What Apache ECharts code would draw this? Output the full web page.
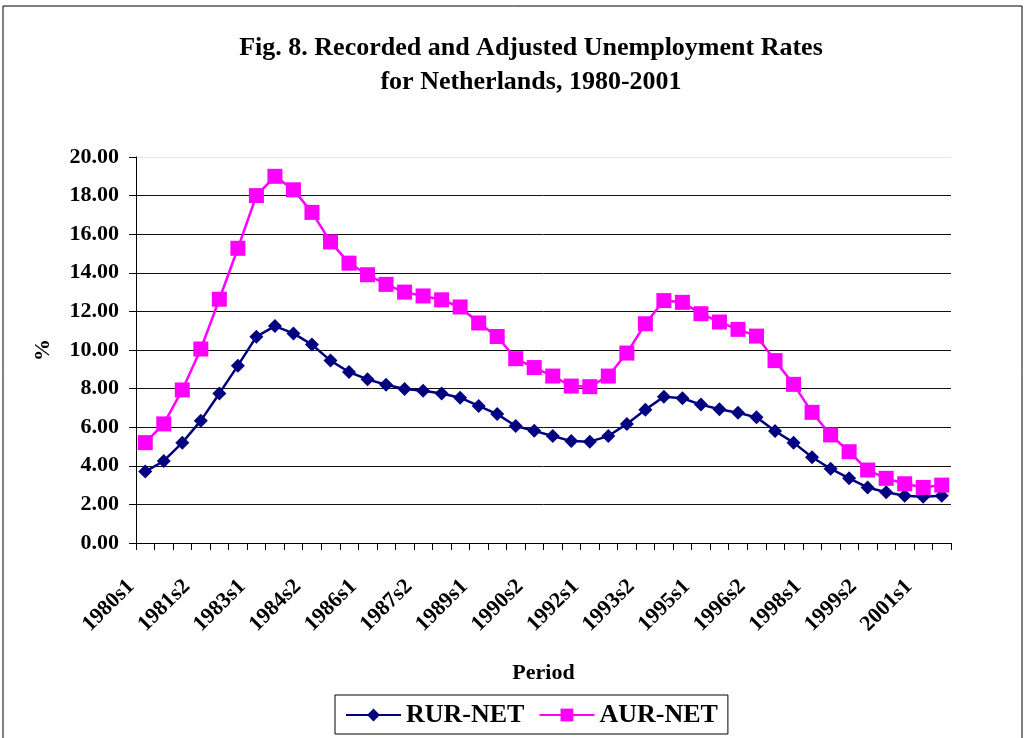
<!DOCTYPE html>
<html>
<head>
    <meta charset="utf-8">
    <title>Fig. 8 Netherlands</title>
    <script src="https://cdn.jsdelivr.net/npm/echarts@6/dist/echarts.min.js"></script>
    <style>
        body { margin: 0; background: #fff; }
    </style>
</head>
<body>
    <div id="main" style="width: 1031px;height:738px;"></div>
    <script type="text/javascript">
        // half-year periods 1980s1 .. 2001s2
        var periods = [];
        for (var yr = 1980; yr <= 2001; yr++) {
            periods.push(yr + 's1');
            periods.push(yr + 's2');
        }

        // recorded unemployment rate
        var rurNet = [3.70, 4.25, 5.20, 6.34, 7.75, 9.19, 10.69, 11.24, 10.86, 10.28,
            9.45, 8.86, 8.48, 8.20, 7.98, 7.89, 7.75, 7.53, 7.10, 6.68,
            6.06, 5.81, 5.54, 5.28, 5.25, 5.54, 6.17, 6.91, 7.58, 7.50,
            7.17, 6.93, 6.75, 6.51, 5.80, 5.20, 4.44, 3.85, 3.35, 2.88,
            2.63, 2.45, 2.40, 2.45];

        // adjusted unemployment rate
        var aurNet = [5.20, 6.17, 7.93, 10.05, 12.63, 15.27, 18.00, 19.00, 18.30, 17.13,
            15.60, 14.50, 13.90, 13.40, 13.00, 12.80, 12.60, 12.23, 11.40, 10.70,
            9.55, 9.09, 8.65, 8.13, 8.10, 8.65, 9.84, 11.36, 12.56, 12.47,
            11.88, 11.45, 11.07, 10.72, 9.45, 8.22, 6.77, 5.60, 4.73, 3.78,
            3.35, 3.07, 2.88, 3.00];

        var font = '"Liberation Serif", "Times New Roman", serif';

        // gridline colours, 0.00 .. 20.00 (top one is faint)
        var gridColors = ['#000', '#111', '#111', '#111', '#111', '#111',
            '#111', '#111', '#111', '#111', '#e6e6e6'];

        var myChart = echarts.init(document.getElementById('main'));

        var option = {
            backgroundColor: '#fff',
            textStyle: { fontFamily: font },
            graphic: [{
                type: 'rect',
                shape: { x: 3, y: 6, width: 1019, height: 740 },
                style: { fill: 'none', stroke: '#000', lineWidth: 1 }
            }],
            title: {
                text: 'Fig. 8. Recorded and Adjusted Unemployment Rates\nfor Netherlands, 1980-2001',
                left: 526,
                textAlign: 'center',
                top: 26,
                textStyle: {
                    fontFamily: font,
                    fontSize: 26,
                    fontWeight: 'bold',
                    color: '#000',
                    lineHeight: 34
                }
            },
            legend: {
                data: ['RUR-NET', 'AUR-NET'],
                bottom: 4,
                left: 335,
                borderColor: '#000',
                borderWidth: 1,
                padding: [7, 10, 6, 10],
                itemGap: 14,
                itemWidth: 55,
                itemHeight: 16,
                textStyle: {
                    fontFamily: font,
                    fontSize: 26,
                    fontWeight: 'bold',
                    color: '#000'
                }
            },
            grid: {
                left: 136,
                right: 80,
                top: 157,
                bottom: 195
            },
            xAxis: {
                type: 'category',
                data: periods,
                boundaryGap: true,
                name: 'Period',
                nameLocation: 'middle',
                nameGap: 119,
                nameTextStyle: {
                    fontFamily: font,
                    fontSize: 22,
                    fontWeight: 'bold',
                    color: '#000'
                },
                axisLine: { lineStyle: { color: '#000', width: 1 } },
                axisTick: { show: true, interval: 0, length: 7, lineStyle: { color: '#000' } },
                axisLabel: {
                    interval: 2,
                    rotate: 45,
                    margin: 26,
                    padding: [0, 20, 0, 0],
                    fontFamily: font,
                    fontSize: 22,
                    fontWeight: 'bold',
                    color: '#000'
                },
                splitLine: { show: false }
            },
            yAxis: {
                type: 'value',
                min: 0,
                max: 20,
                interval: 2,
                name: '%',
                nameLocation: 'middle',
                nameRotate: 90,
                nameGap: 82,
                nameTextStyle: {
                    fontFamily: font,
                    fontSize: 22,
                    fontWeight: 'bold',
                    color: '#000'
                },
                axisLine: { show: true, lineStyle: { color: '#000', width: 1 } },
                axisTick: { show: true, length: 7, lineStyle: { color: '#000' } },
                axisLabel: {
                    formatter: function (v) { return v.toFixed(2); },
                    margin: 17,
                    fontFamily: font,
                    fontSize: 22,
                    fontWeight: 'bold',
                    color: '#000'
                },
                splitLine: { show: true, lineStyle: { color: gridColors, width: 1 } }
            },
            series: [{
                name: 'RUR-NET',
                type: 'line',
                data: rurNet,
                symbol: 'diamond',
                symbolSize: 14,
                showAllSymbol: true,
                color: '#000080',
                lineStyle: { color: '#000080', width: 2.5 },
                itemStyle: { color: '#000080' },
                animation: false
            }, {
                name: 'AUR-NET',
                type: 'line',
                data: aurNet,
                symbol: 'rect',
                symbolSize: 15,
                showAllSymbol: true,
                color: '#FF00FF',
                lineStyle: { color: '#FF00FF', width: 2.5 },
                itemStyle: { color: '#FF00FF' },
                animation: false
            }]
        };

        myChart.setOption(option);
    </script>
</body>
</html>
